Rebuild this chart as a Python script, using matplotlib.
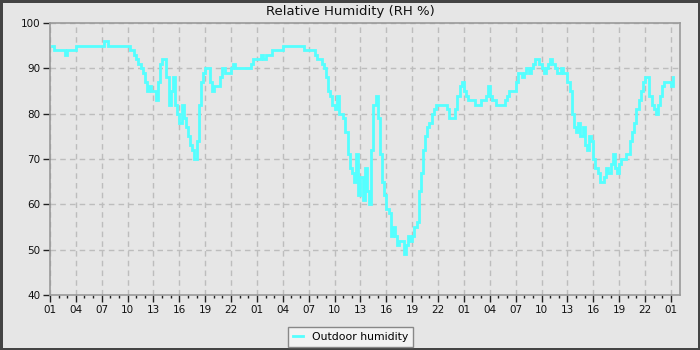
import matplotlib
matplotlib.use("Agg")
import matplotlib.pyplot as plt
import numpy as np

# Outdoor relative humidity (%) sampled every 15 minutes, starting 01:15 on day 1
start_hour = 0.25
step_hours = 0.25
humidity = [
    95, 94, 94,
    94, 94, 94, 93,
    94, 94, 94, 94,
    95, 95, 95, 95,
    95, 95, 95, 95,
    95, 95, 95, 95,
    95, 96, 96, 95,
    95, 95, 95, 95,
    95, 95, 95, 95,
    95, 94, 94, 93,
    92, 91, 90, 89,
    87, 85, 86, 85,
    85, 83, 87, 91,
    92, 92, 88, 82,
    85, 88, 82, 80,
    78, 82, 79, 77,
    75, 73, 72, 70,
    74, 82, 87, 89,
    90, 90, 87, 85,
    86, 86, 86, 88,
    90, 89, 89, 89,
    90, 91, 90, 90,
    90, 90, 90, 90,
    90, 91, 92, 92,
    92, 92, 93, 92,
    93, 93, 93, 94,
    94, 94, 94, 94,
    95, 95, 95, 95,
    95, 95, 95, 95,
    95, 95, 94, 94,
    94, 94, 94, 93,
    92, 92, 91, 90,
    88, 85, 84, 82,
    81, 84, 80, 80,
    79, 76, 71, 68,
    67, 65, 71, 62,
    66, 61, 68, 63,
    60, 72, 82, 84,
    79, 71, 65, 62,
    59, 58, 53, 55,
    53, 51, 52, 52,
    49, 51, 53, 52,
    53, 55, 56, 63,
    67, 72, 75, 77,
    78, 80, 81, 82,
    82, 82, 82, 82,
    81, 79, 79, 79,
    81, 84, 86, 87,
    85, 84, 83, 83,
    83, 82, 82, 82,
    83, 83, 84, 86,
    84, 83, 83, 82,
    82, 82, 82, 83,
    84, 85, 85, 85,
    87, 89, 89, 88,
    89, 90, 89, 90,
    91, 92, 92, 91,
    90, 89, 90, 91,
    92, 91, 90, 89,
    89, 90, 89, 89,
    87, 85, 80, 77,
    76, 78, 75, 77,
    73, 72, 75, 74,
    70, 68, 67, 65,
    65, 66, 68, 67,
    69, 71, 68, 67,
    69, 70, 70, 71,
    71, 74, 76, 78,
    81, 83, 85, 87,
    88, 88, 84, 82,
    81, 80, 82, 84,
    86, 87, 87, 87,
    86, 88,
]
hours = start_hour + step_hours * np.arange(len(humidity))

title = "Relative Humidity (RH %)"
series_label = "Outdoor humidity"
y_ticks = [40, 50, 60, 70, 80, 90, 100]
x_major = list(range(0, 73, 3))
x_labels = [f"{(h + 1) % 24:02d}" for h in x_major]

bg = "#e6e6e6"
fig = plt.figure(figsize=(7, 3.5), dpi=100, facecolor=bg,
                 edgecolor="#444444", linewidth=2.5)
ax = fig.add_axes([50 / 700, 55 / 350, 630 / 700, 272 / 350])
ax.set_facecolor(bg)

ax.plot(hours, humidity, color="#55ffff", lw=2.0, drawstyle="steps-post",
        label=series_label, solid_joinstyle="miter")

ax.set_xlim(0, 73.05)
ax.set_ylim(40, 100)
ax.set_yticks(y_ticks)
ax.set_xticks(x_major)
ax.set_xticklabels(x_labels)
ax.set_xticks(np.arange(0, 73, 1), minor=True)

ax.grid(True, which="major", color="#bdbdbd", linestyle=(0, (4, 3)), lw=1)
for s in ax.spines.values():
    s.set_color("#9a9a9a")
    s.set_linewidth(1.2)
ax.tick_params(axis="both", which="major", length=5, width=1, color="#222222",
               labelsize=7.5, labelcolor="#111111", pad=2)
ax.tick_params(axis="x", which="minor", length=2.5, width=1, color="#222222")

fig.text(0.5, 1 - 11 / 350, title, ha="center", va="center", fontsize=9.5,
         color="#111111")

leg = fig.legend(loc="center", bbox_to_anchor=(350.5 / 700, 1 - 337 / 350),
                 fontsize=7.8, frameon=True, fancybox=False,
                 edgecolor="#888888", facecolor="#f2f2f2", framealpha=1,
                 handlelength=1.0, handletextpad=0.8, borderpad=0.45)
leg.get_frame().set_linewidth(1)

fig.savefig("out.png", dpi=100, facecolor=fig.get_facecolor(),
            edgecolor=fig.get_edgecolor())
